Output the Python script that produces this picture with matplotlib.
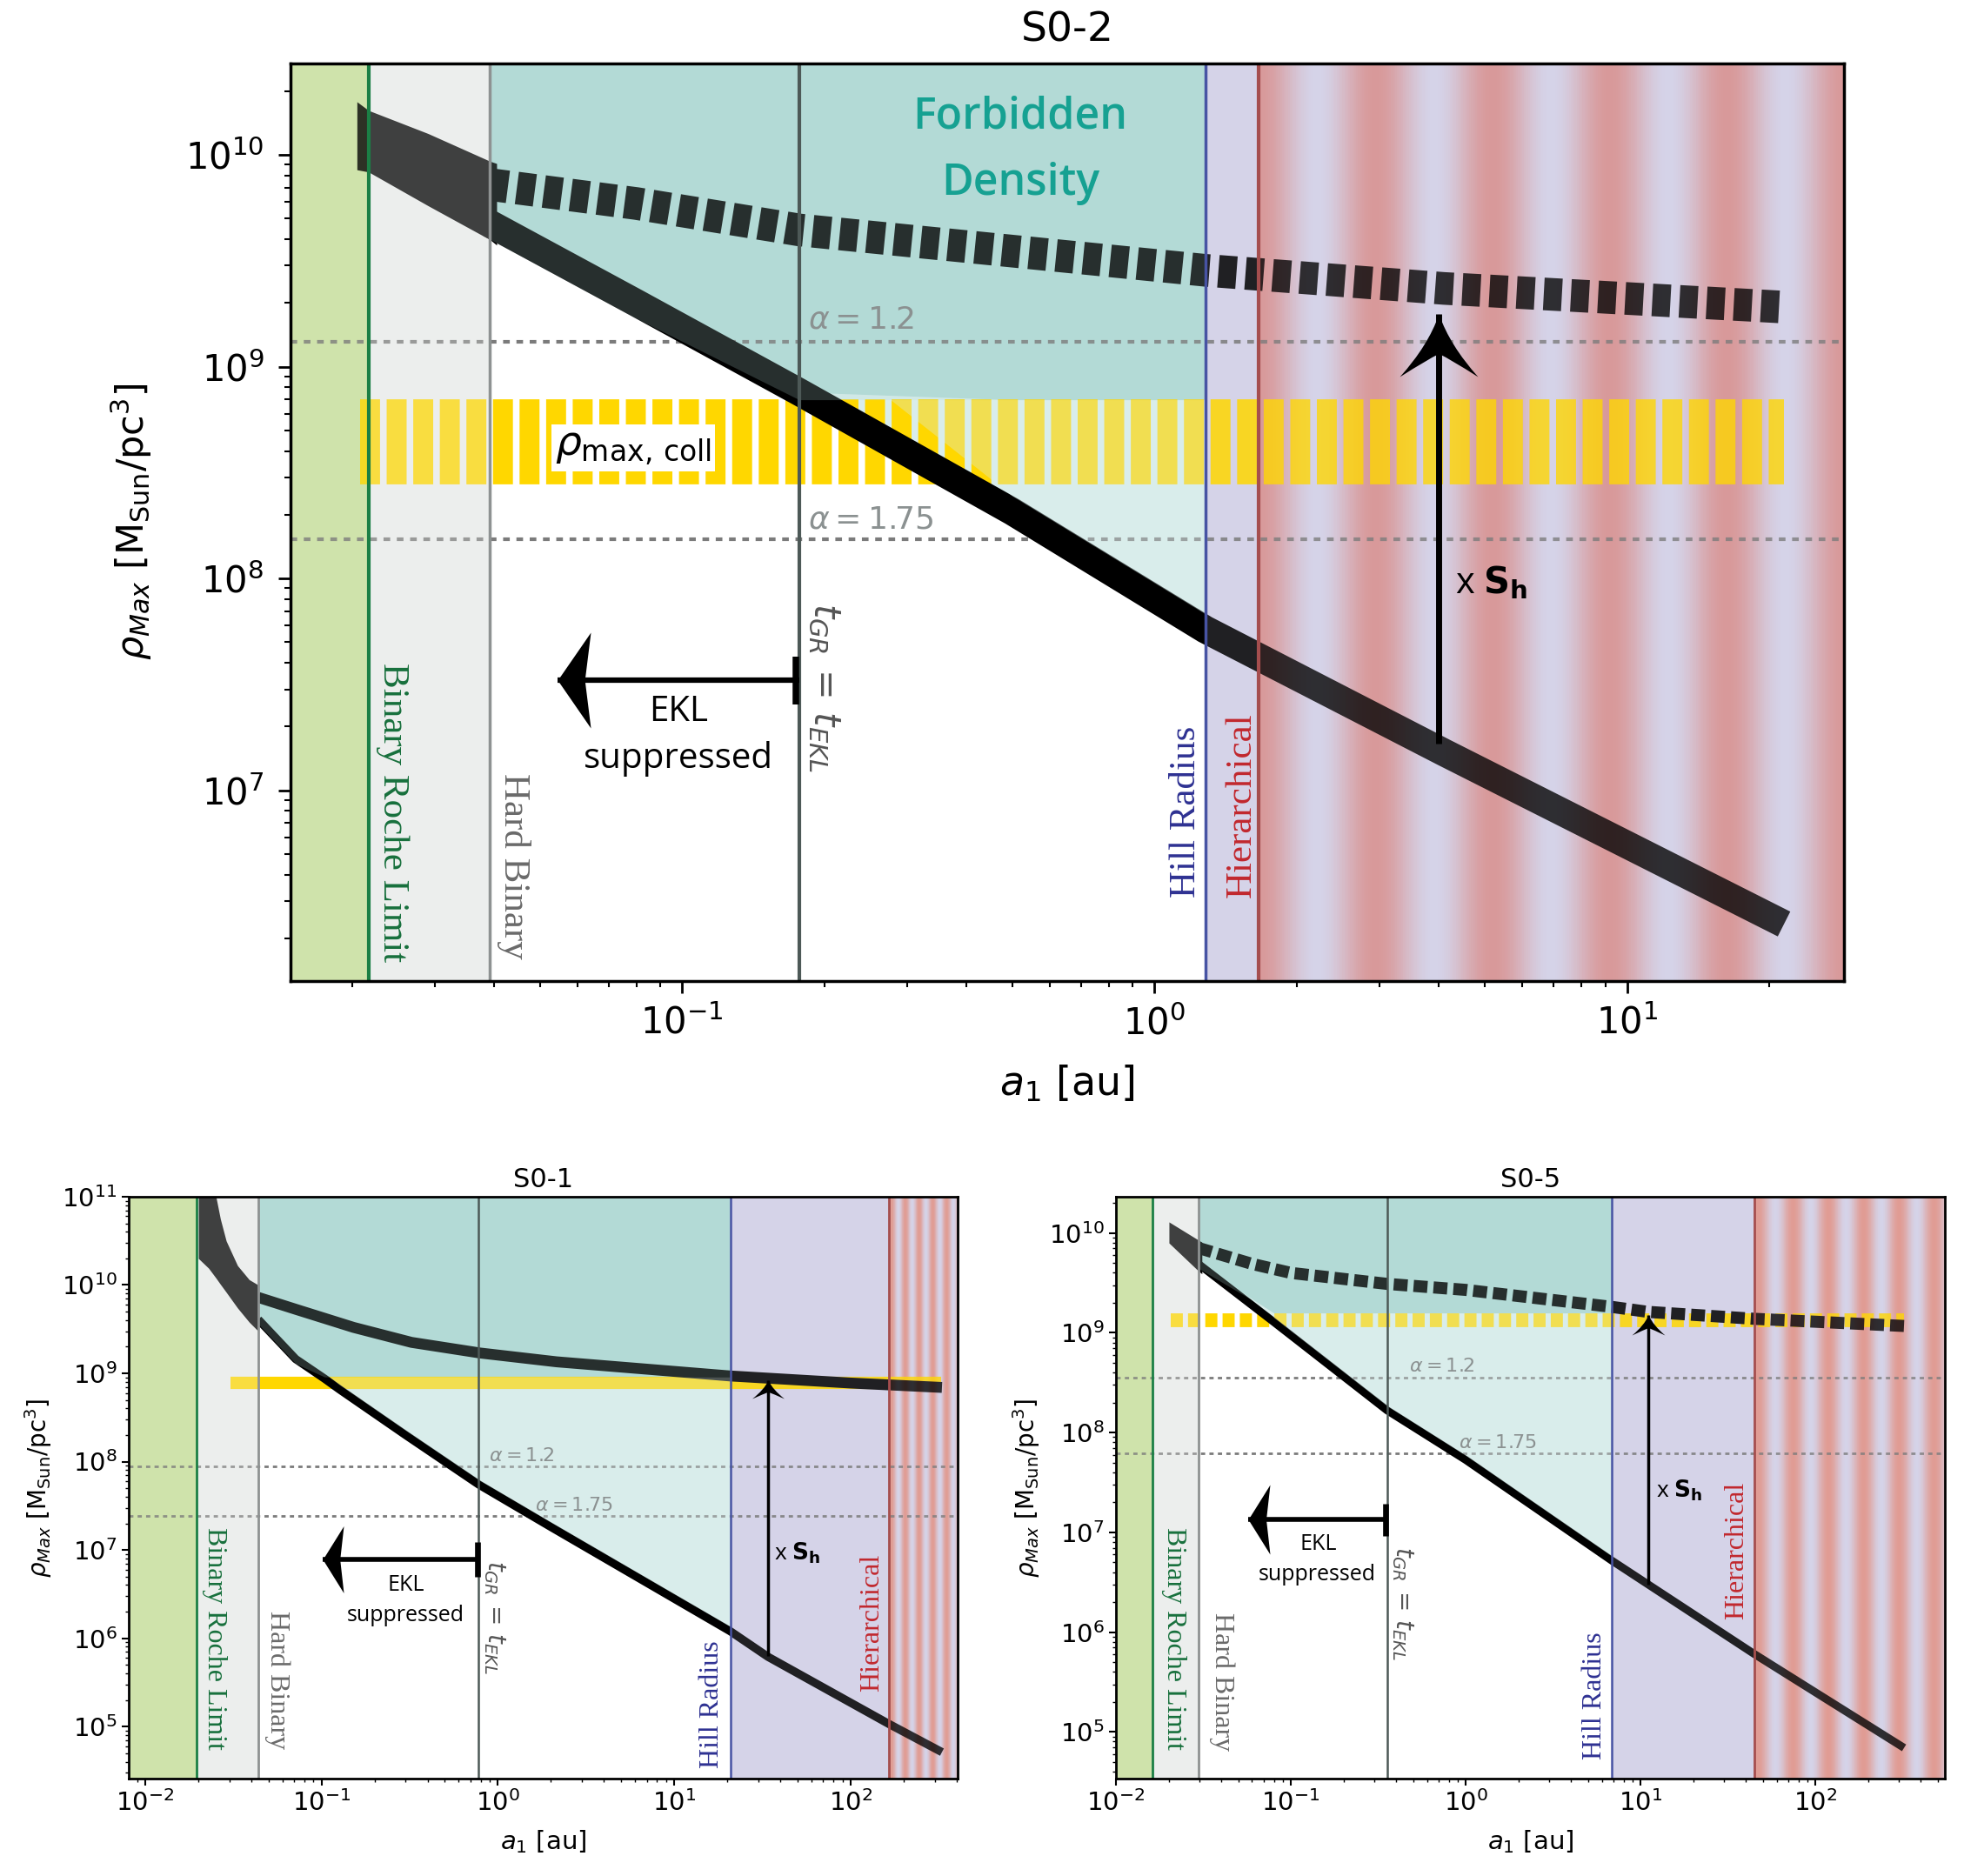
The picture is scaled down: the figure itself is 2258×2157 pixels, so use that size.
import numpy as np
import matplotlib
matplotlib.use("Agg")
import matplotlib.pyplot as plt
from matplotlib.path import Path
from matplotlib.markers import MarkerStyle
from matplotlib.colors import LinearSegmentedColormap
from matplotlib.ticker import NullFormatter

plt.rcParams['lines.scale_dashes'] = False
plt.rcParams['mathtext.fontset'] = 'dejavusans'
plt.rcParams['font.family'] = ['DejaVu Sans']

DPI = 100
W_IN, H_IN = 22.58, 21.57
PT = 72.0 / DPI  # points per pixel

# ------------------------------------------------------------------ data
# S0-2 (top panel)
s02_xlim = [0.01483, 28.8]
s02_ylim = [1.26e6, 2.7e10]
s02_lines = [0.0217, 0.0392, 0.177, 1.28, 1.66]      # roche, hard, tGR, hill, hier
s02_coll_a = [0.0208, 21.5]
s02_coll_rho = [2.77e8, 6.98e8]
s02_alpha_rho = [1.31e9, 1.53e8]
s02_wedge_a = [0.0205, 0.0217, 0.029, 0.0392, 0.0405]
s02_wedge_top = [1.78e10, 1.62e10, 1.26e10, 9.33e9, 9.1e9]
s02_wedge_bot = [8.5e9, 8.3e9, 5.75e9, 3.98e9, 3.75e9]
s02_up_a = [0.0392, 0.08, 0.177, 0.5, 1.28, 4.1, 21.5]
s02_up_rho = [7.24e9, 5.89e9, 4.42e9, 3.51e9, 2.85e9, 2.34e9, 1.91e9]
s02_lo_a = [0.0392, 0.08, 0.177, 0.5, 1.28, 4.1, 21.5]
s02_lo_rho = [4.73e9, 2.0e9, 7.59e8, 2.07e8, 5.75e7, 1.51e7, 2.34e6]

# S0-1 (bottom left)
s01_xlim = [0.00806, 405]
s01_ylim = [2.57e4, 1e11]
s01_lines = [0.0195, 0.0438, 0.78, 20.8, 165]
s01_coll_a = [0.0305, 327]
s01_coll_rho = [6.6e8, 9.1e8]
s01_alpha_rho = [8.9e7, 2.4e7]
s01_wedge_a = [0.02004, 0.0229, 0.0252, 0.0267, 0.0288, 0.0334, 0.0389, 0.0438]
s01_wedge_top = [2.0e11, 1.6e11, 1.0e11, 5.6e10, 3.16e10, 1.66e10, 1.15e10, 1.0e10]
s01_wedge_bot = [2.0e10, 1.55e10, 1.2e10, 1.02e10, 8.3e9, 5.5e9, 3.8e9, 3.0e9]
s01_up_a = [0.0438, 0.0714, 0.152, 0.324, 0.79, 2.15, 20.8, 100, 330]
s01_up_rho = [7.24e9, 5.31e9, 3.31e9, 2.24e9, 1.70e9, 1.35e9, 9.33e8, 7.76e8, 6.92e8]
s01_lo_a = [0.0438, 0.0714, 0.104, 0.126, 0.3, 0.78, 2, 20.8, 34, 165, 330]
s01_lo_rho = [4.07e9, 1.45e9, 8.71e8, 6.61e8, 2.0e8, 5.5e7, 1.82e7, 1.2e6, 6.17e5, 1.07e5,
              5.13e4]

# S0-5 (bottom right)
s05_xlim = [0.01, 550]
s05_ylim = [3.4e4, 2.31e10]
s05_lines = [0.01626, 0.0296, 0.355, 6.8, 44.7]
s05_coll_a = [0.0205, 321]
s05_coll_rho = [1.15e9, 1.58e9]
s05_alpha_rho = [3.54e8, 6.2e7]
s05_wedge_a = [0.0201, 0.0296, 0.031]
s05_wedge_top = [1.29e10, 8.5e9, 8.1e9]
s05_wedge_bot = [7.94e9, 4.17e9, 3.9e9]
s05_up_a = [0.0296, 0.06, 0.1, 0.355, 1, 6.8, 11, 44.7, 321]
s05_up_rho = [7.08e9, 4.9e9, 3.98e9, 3.09e9, 2.69e9, 1.82e9, 1.62e9, 1.38e9, 1.17e9]
s05_lo_a = [0.0296, 0.08, 0.355, 1, 6.8, 11, 44.7, 321]
s05_lo_rho = [4.9e9, 1.28e9, 1.67e8, 5.32e7, 5.25e6, 3.02e6, 6.03e5, 6.92e4]

titles = ['S0-2', 'S0-1', 'S0-5']
alpha_labels = [r'$\alpha = 1.2$', r'$\alpha = 1.75$']
region_labels = ['Binary Roche Limit', 'Hard Binary', 'Hill Radius', 'Hierarchical']

# ------------------------------------------------------------------ style
C_GREEN = '#cfe3ab'
C_GREY = '#eceeed'
C_TEAL_D = '#b3dad6'
C_TEAL_L = '#d9edeb'
C_LAV = '#d5d3e8'
C_GOLD = '#ffd700'
OV = 0.22
LINE_COLS = ['#1b7f45', '#8e9292', '#4d5957', '#4753a3', '#a54e4e']
TXT_COLS = ['#17703c', '#6a6a6a', '#2e3192', '#c1272d']
SERIF = ['Liberation Serif', 'DejaVu Serif']
OSANS = ['Open Sans', 'DejaVu Sans']


def stealth(w_px, l_px):
    h = w_px / 2.0
    v = [(0, 0), (-0.28 * h, -0.5 * l_px), (-h, -l_px), (-0.3 * h, -0.72 * l_px),
         (0, -0.63 * l_px), (0.3 * h, -0.72 * l_px), (h, -l_px), (0.28 * h, -0.5 * l_px),
         (0, 0), (0, 0)]
    c = [Path.MOVETO] + [Path.CURVE3] * 8 + [Path.CLOSEPOLY]
    return MarkerStyle(Path(v, c)), 2 * max(h, l_px) * PT


def tri_left(l_px, h_px):
    v = [(0, 0), (l_px, h_px / 2.0), (0.82 * l_px, 0), (l_px, -h_px / 2.0), (0, 0)]
    c = [Path.MOVETO, Path.LINETO, Path.LINETO, Path.LINETO, Path.CLOSEPOLY]
    return MarkerStyle(Path(v, c)), 2 * max(l_px, h_px / 2.0) * PT


def stripes(ax, xa, xb, y0, y1, nper, phase, pink, alpha, z):
    n = 300
    e = np.logspace(np.log10(xa), np.log10(xb), n + 1)
    t = (np.arange(n) + 0.5) / n
    w = 0.5 + 0.5 * np.cos(2 * np.pi * (nper * t - phase))
    cmap = LinearSegmentedColormap.from_list('st', [C_LAV, pink])
    ax.pcolormesh(e, [y0, y1], w[None, :], cmap=cmap, vmin=0, vmax=1,
                  shading='flat', alpha=alpha, zorder=z, antialiased=False,
                  linewidth=0, edgecolors='none')


def draw_panel(ax, d, s):
    ax.set_xscale('log')
    ax.set_yscale('log')
    x0, x1 = d['xlim']
    y0, y1 = d['ylim']
    ax.set_xlim(x0, x1)
    ax.set_ylim(y0, y1)
    roche, hard, tgr, hill, hier = d['lines']
    hpx = ax.get_position().height * H_IN * DPI
    ppd = hpx / (np.log10(y1) - np.log10(y0))  # pixels per decade in y

    la = np.array(d['lo_a'])
    ly = np.array(d['lo_rho'])
    clo, chi = d['coll_rho']
    m = (la >= hard * 0.999) & (la <= hill * 1.001)
    hw = 10 ** (s['lo_lw'] / PT / 2.0 / ppd * 1.12)

    # ---- background columns
    ax.axvspan(x0, roche, color=C_GREEN, lw=0, zorder=0)
    ax.axvspan(roche, hard, color=C_GREY, lw=0, zorder=0)
    ax.axvspan(hill, hier, color=C_LAV, lw=0, zorder=0)
    stripes(ax, hier, x1, y0, y1, s['nper'], s['phase'], s['pink'], 1.0, 0)
    ax.fill_between(la[m], ly[m], y1, color=C_TEAL_L, lw=0, zorder=0.5)
    ax.fill_between(la[m], np.maximum(ly[m], chi), y1, color=C_TEAL_D, lw=0, zorder=0.6)

    # ---- dotted alpha lines
    for yv in d['alpha_rho']:
        ax.axhline(yv, color='#7b7b7b', lw=s['dot_lw'], dashes=s['dot_dash'], zorder=1.5)

    # ---- collision density band
    yc = np.sqrt(clo * chi)
    band_lw = (np.log10(chi) - np.log10(clo)) * ppd * PT
    kw = dict(color=C_GOLD, lw=band_lw, solid_capstyle='butt', dash_capstyle='butt', zorder=2)
    if s['coll_dash'] is not None:
        kw['dashes'] = s['coll_dash']
    ax.plot(d['coll_a'], [yc, yc], **kw)

    # ---- curves
    ax.fill_between(d['wedge_a'], d['wedge_bot'], d['wedge_top'], color='k', lw=0, zorder=3)
    ax.plot(la, ly, color='k', lw=s['lo_lw'], solid_capstyle='butt', solid_joinstyle='round',
            zorder=3)
    kw = dict(color='k', lw=s['up_lw'], solid_capstyle='butt', dash_capstyle='butt',
              solid_joinstyle='round', zorder=3)
    if s['up_dash'] is not None:
        kw['dashes'] = s['up_dash']
    ax.plot(d['up_a'], d['up_rho'], **kw)

    # ---- tinted overlays (give the curves the colour of their column)
    ax.axvspan(x0, roche, color=C_GREEN, lw=0, alpha=OV, zorder=4)
    ax.axvspan(roche, hard, color=C_GREY, lw=0, alpha=OV + 0.05, zorder=4)
    ax.axvspan(hill, hier, color=C_LAV, lw=0, alpha=OV * 0.7, zorder=4)
    stripes(ax, hier, x1, y0, y1, s['nper'], s['phase'], s['pink'], OV, 4)
    ax.fill_between(la[m], np.maximum(ly[m] / hw, chi), y1, color=C_TEAL_D, lw=0,
                    alpha=OV, zorder=4)
    ax.fill_between(la[m], ly[m] * hw, chi, where=(ly[m] * hw < chi), interpolate=True,
                    color=C_TEAL_L, lw=0, alpha=0.35, zorder=4)

    # ---- vertical boundaries
    for xv, col, lw in zip(d['lines'], LINE_COLS, s['vlw']):
        ax.axvline(xv, color=col, lw=lw, zorder=5)

    # ---- labels
    L = s['lab']
    for key, txt, col, rot in zip(['roche', 'hard', 'hill', 'hier'], region_labels, TXT_COLS,
                                  [-90, -90, 90, 90]):
        ax.text(L[key][0], L[key][1], txt, rotation=rot, ha='center', va='center',
                color=col, family=SERIF, fontsize=s['fs_serif'], zorder=6)
    ax.text(L['tgr'][0], L['tgr'][1], r'$t_{GR}\,=\,t_{EKL}$', rotation=-90, ha='center',
            va='center', color='#555555', fontsize=s['fs_tgr'], zorder=6)
    for (xa, ya), t in zip([L['a12'], L['a175']], alpha_labels):
        ax.text(xa, ya, t, ha='left', va='center', color='#8b9191', fontsize=s['fs_alpha'],
                zorder=6)
    ax.text(L['ekl'][0], L['ekl'][1], 'EKL', ha='center', va='center', family=OSANS,
            fontsize=s['fs_ekl'], zorder=6)
    ax.text(L['sup'][0], L['sup'][1], 'suppressed', ha='center', va='center', family=OSANS,
            fontsize=s['fs_ekl'], zorder=6)
    ax.text(L['sh'][0], L['sh'][1], r'x $\mathbf{S_{h}}$', ha='left', va='center',
            family=OSANS, fontsize=s['fs_sh'], zorder=6)

    # ---- EKL arrow
    ya = s['ekl_y']
    ax.plot([s['ekl_tip'], tgr], [ya, ya], color='k', lw=s['ekl_lw'], solid_capstyle='butt',
            zorder=7)
    mk, ms = tri_left(*s['ekl_head'])
    ax.plot([s['ekl_tip']], [ya], marker=mk, ms=ms, color='k', mew=0, ls='none', zorder=7)
    ax.plot([tgr * 0.985], [ya], marker='|', ms=s['ekl_bar'] * PT, mew=s['ekl_lw'] * 1.2,
            color='k', ls='none', zorder=7)

    # ---- S_h arrow
    xa, yb, yt = s['sh_arrow']
    ax.plot([xa, xa], [yb, yt], color='k', lw=s['sh_lw'], solid_capstyle='butt', zorder=7)
    mk, ms = stealth(*s['sh_head'])
    ax.plot([xa], [yt], marker=mk, ms=ms, color='k', mew=0, ls='none', zorder=7)

    ax.set_xlim(x0, x1)
    ax.set_ylim(y0, y1)
    ax.xaxis.set_minor_formatter(NullFormatter())
    ax.yaxis.set_minor_formatter(NullFormatter())
    for sp in ax.spines.values():
        sp.set_linewidth(s['spine'])
        sp.set_zorder(8)


def pack(xlim, ylim, lines, coll_a, coll_rho, alpha_rho, wa, wt, wb, ua, ur, la, lr):
    return dict(xlim=xlim, ylim=ylim, lines=lines, coll_a=coll_a, coll_rho=coll_rho,
                alpha_rho=alpha_rho, wedge_a=wa, wedge_top=wt, wedge_bot=wb,
                up_a=ua, up_rho=ur, lo_a=la, lo_rho=lr)


D02 = pack(s02_xlim, s02_ylim, s02_lines, s02_coll_a, s02_coll_rho, s02_alpha_rho,
           s02_wedge_a, s02_wedge_top, s02_wedge_bot, s02_up_a, s02_up_rho, s02_lo_a, s02_lo_rho)
D01 = pack(s01_xlim, s01_ylim, s01_lines, s01_coll_a, s01_coll_rho, s01_alpha_rho,
           s01_wedge_a, s01_wedge_top, s01_wedge_bot, s01_up_a, s01_up_rho, s01_lo_a, s01_lo_rho)
D05 = pack(s05_xlim, s05_ylim, s05_lines, s05_coll_a, s05_coll_rho, s05_alpha_rho,
           s05_wedge_a, s05_wedge_top, s05_wedge_bot, s05_up_a, s05_up_rho, s05_lo_a, s05_lo_rho)

S02 = dict(nper=5.0, phase=0.0, pink='#d8999a', dot_lw=3.0, dot_dash=(5.5, 5.5),
           coll_dash=(16.5, 5.5), lo_lw=23, up_lw=27, up_dash=(15, 7.5),
           vlw=[3, 2.5, 3, 2.5, 3], fs_serif=31, fs_tgr=30, fs_alpha=26, fs_ekl=29, fs_sh=30,
           ekl_y=3.3e7, ekl_tip=0.0545, ekl_lw=4.5, ekl_head=(38, 110), ekl_bar=55,
           sh_arrow=(4.0, 1.66e7, 1.78e9), sh_lw=5, sh_head=(90, 72), spine=2.5,
           lab=dict(roche=(0.0244, 7.9e6), hard=(0.0440, 4.4e6), hill=(1.167, 7.9e6),
                    hier=(1.528, 8.5e6), tgr=(0.2005, 3.06e7), a12=(0.185, 1.67e9),
                    a175=(0.185, 1.9e8), ekl=(0.0984, 2.34e7), sup=(0.0984, 1.41e7),
                    sh=(4.32, 9.5e7)))
S01 = dict(nper=5.0, phase=0.2, pink='#e09c94', dot_lw=2.0, dot_dash=(3.5, 3.5),
           coll_dash=None, lo_lw=6.8, up_lw=9, up_dash=None,
           vlw=[2, 2, 1.8, 1.8, 2], fs_serif=23, fs_tgr=20, fs_alpha=16, fs_ekl=18, fs_sh=19,
           ekl_y=7.8e6, ekl_tip=0.1014, ekl_lw=4, ekl_head=(24, 77), ekl_bar=40,
           sh_arrow=(34, 6.3e5, 8.3e8), sh_lw=2.5, sh_head=(37, 21), spine=2,
           lab=dict(roche=(0.0247, 1.0e6), hard=(0.0558, 3.4e5), hill=(16.4, 1.8e5),
                    hier=(133, 1.48e6), tgr=(0.96, 1.74e6), a12=(0.89, 1.17e8),
                    a175=(1.62, 3.16e7), ekl=(0.30, 4.0e6), sup=(0.30, 1.82e6),
                    sh=(36.9, 9.3e6)))
S05 = dict(nper=5.4, phase=0.1, pink='#e09c94', dot_lw=2.0, dot_dash=(3.5, 3.5),
           coll_dash=(10, 4.3), lo_lw=6.5, up_lw=10, up_dash=(11.5, 5),
           vlw=[2, 2, 1.8, 1.8, 2], fs_serif=23, fs_tgr=20, fs_alpha=16, fs_ekl=18, fs_sh=19,
           ekl_y=1.35e7, ekl_tip=0.0571, ekl_lw=4, ekl_head=(25, 80), ekl_bar=37,
           sh_arrow=(11.0, 3.0e6, 1.5e9), sh_lw=2.5, sh_head=(38, 23), spine=2,
           lab=dict(roche=(0.0213, 8.7e5), hard=(0.0402, 3.16e5), hill=(5.48, 2.3e5),
                    hier=(35.5, 6.5e6), tgr=(0.435, 1.95e6), a12=(0.477, 4.6e8),
                    a175=(0.914, 7.8e7), ekl=(0.1435, 7.66e6), sup=(0.1418, 3.8e6),
                    sh=(12.3, 2.63e7)))

fig = plt.figure(figsize=(W_IN, H_IN), dpi=DPI)
ax1 = fig.add_axes([0.1479, 0.4771, 0.7910, 0.4891])
ax2 = fig.add_axes([0.0655, 0.0519, 0.4221, 0.3102])
ax3 = fig.add_axes([0.5682, 0.0519, 0.4221, 0.3102])

draw_panel(ax1, D02, S02)
draw_panel(ax2, D01, S01)
draw_panel(ax3, D05, S05)

# top-panel extras
ax1.text(0.52, 1.51e10, 'Forbidden', ha='center', va='center', family=OSANS,
         fontweight='semibold', color='#16a192', fontsize=36, zorder=6)
ax1.text(0.52, 7.3e9, 'Density', ha='center', va='center', family=OSANS,
         fontweight='semibold', color='#16a192', fontsize=36, zorder=6)
ax1.text(0.0788, 4.14e8, r'$\rho_{\rm max,\,coll}$', ha='center', va='center', fontsize=34,
         zorder=6, bbox=dict(facecolor='white', edgecolor='none', pad=3))

ylab = r'$\rho_{Max}$ [M$_{\rm Sun}$/pc$^{3}$]'
xlab = r'$a_1$ [au]'
ax1.set_title(titles[0], fontsize=34, pad=18)
ax1.set_xlabel(xlab, fontsize=33, labelpad=18)
ax1.set_ylabel(ylab, fontsize=31, labelpad=26)
ax1.tick_params(which='major', labelsize=30, length=10, width=2)
ax1.tick_params(which='minor', length=5, width=1.5)
ax1.tick_params(axis='y', pad=12)
ax1.tick_params(axis='x', pad=10)

for ax, t in [(ax2, titles[1]), (ax3, titles[2])]:
    ax.set_title(t, fontsize=22, pad=8)
    ax.set_xlabel(xlab, fontsize=21, labelpad=10)
    ax.set_ylabel(ylab, fontsize=20, labelpad=6)
    ax.tick_params(which='major', labelsize=21, length=6, width=1.5)
    ax.tick_params(which='minor', length=3, width=1)

fig.savefig('out.png', dpi=DPI)
